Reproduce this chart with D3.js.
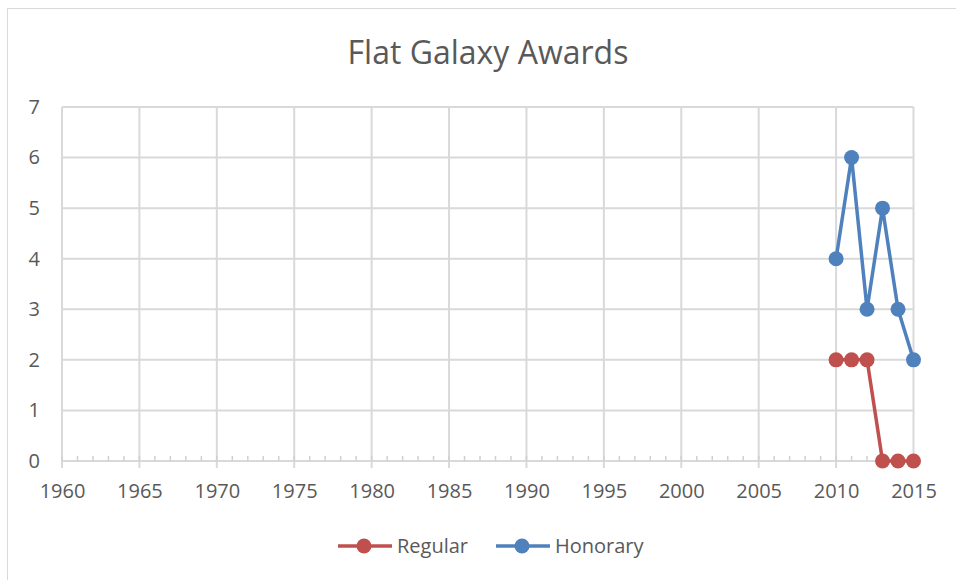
<!DOCTYPE html>
<html><head><meta charset="utf-8">
<script src="https://cdn.jsdelivr.net/npm/d3@7"></script>
<style>body{margin:0;background:#fff}text{font-family:"Open Sans",sans-serif;fill:#595959}</style>
</head><body><svg id="c" width="956" height="580"></svg>
<script>
const years = [2010, 2011, 2012, 2013, 2014, 2015];
const regular = [2, 2, 2, 0, 0, 0];
const honorary = [4, 6, 3, 5, 3, 2];
const xTicks = [1960,1965,1970,1975,1980,1985,1990,1995,2000,2005,2010,2015];
const yTicks = [0,1,2,3,4,5,6,7];
const seriesNames = ["Regular", "Honorary"];
const colors = ["#C0504D", "#4F81BD"];

const svg = d3.select("#c");
svg.append("rect").attr("x",7.5).attr("y",8.5).attr("width",960).attr("height",600)
  .attr("fill","#fff").attr("stroke","#d9d9d9");

const x = d3.scaleLinear().domain([1960,2015]).range([62,913.5]);
const y = d3.scaleLinear().domain([0,7]).range([461,107]);

svg.append("text").attr("x",488).attr("y",64).attr("text-anchor","middle")
  .style("font-size","32px").text("Flat Galaxy Awards");

const g = svg.append("g");
g.selectAll(".hg").data(yTicks).join("line")
  .attr("x1",x(1960)).attr("x2",x(2015)).attr("y1",d=>y(d)).attr("y2",d=>y(d))
  .attr("stroke","#d9d9d9").attr("stroke-width",2);
g.selectAll(".vg").data(xTicks).join("line")
  .attr("x1",d=>x(d)).attr("x2",d=>x(d)).attr("y1",y(7)).attr("y2",y(0)+7)
  .attr("stroke","#d9d9d9").attr("stroke-width",2);
g.selectAll(".mt").data(d3.range(1960,2016)).join("line")
  .attr("x1",d=>x(d)).attr("x2",d=>x(d)).attr("y1",y(0)-5).attr("y2",y(0))
  .attr("stroke","#d0d0d0").attr("stroke-width",1.5);

const yAxis = d3.axisLeft(y).tickValues(yTicks).tickFormat(d3.format("d")).tickSize(0).tickPadding(22);
const ya = svg.append("g").attr("transform",`translate(${x(1960)},0)`).call(yAxis);
ya.select(".domain").remove();
ya.selectAll("text").style("font-size","20px").style("font-family","'Open Sans',sans-serif").attr("fill","#595959");

const xAxis = d3.axisBottom(x).tickValues(xTicks).tickFormat(d3.format("d")).tickSize(0).tickPadding(23);
const xa = svg.append("g").attr("transform",`translate(0,${y(0)})`).call(xAxis);
xa.select(".domain").remove();
xa.selectAll("text").style("font-size","20px").style("font-family","'Open Sans',sans-serif").attr("fill","#595959");

const data = [regular, honorary];
const line = d3.line().x((d,i)=>x(years[i])).y(d=>y(d));
data.forEach((s,k)=>{
  svg.append("path").datum(s).attr("d",line).attr("fill","none")
    .attr("stroke",colors[k]).attr("stroke-width",3.5).attr("stroke-linejoin","round");
  svg.selectAll(".m"+k).data(s).join("circle")
    .attr("cx",(d,i)=>x(years[i])).attr("cy",d=>y(d)).attr("r",7.5).attr("fill",colors[k]);
});

const legX = [338, 496];
seriesNames.forEach((n,k)=>{
  const lg = svg.append("g").attr("transform",`translate(${legX[k]},546)`);
  lg.append("line").attr("x1",0).attr("x2",54).attr("stroke",colors[k]).attr("stroke-width",3.5);
  lg.append("circle").attr("cx",26).attr("r",7.5).attr("fill",colors[k]);
  lg.append("text").attr("x",59).attr("y",7).style("font-size","20px").text(n);
});
</script></body></html>
